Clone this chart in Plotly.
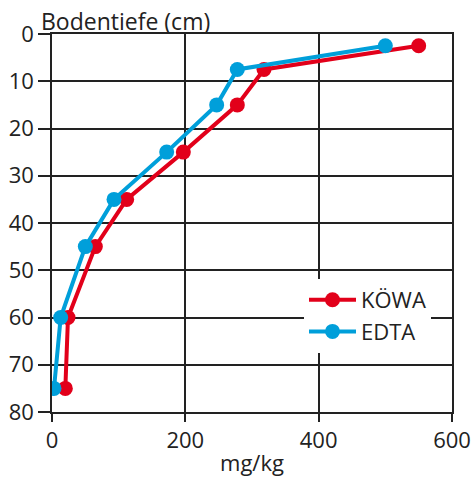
import plotly.graph_objects as go

depth = [2.5, 7.5, 15, 25, 35, 45, 60, 75]
koewa = [550, 318, 278, 197, 112, 65, 24, 20]
edta = [500, 278, 247, 172, 93, 50, 13, 3]

RED = "#e2001a"
BLUE = "#009fda"
FONT = "Open Sans"
INK = "#222"

fig = go.Figure()
fig.add_trace(go.Scatter(x=koewa, y=depth, mode="lines+markers", name="KÖWA",
                         line=dict(color=RED, width=4), marker=dict(color=RED, size=15)))
fig.add_trace(go.Scatter(x=edta, y=depth, mode="lines+markers", name="EDTA",
                         line=dict(color=BLUE, width=4), marker=dict(color=BLUE, size=15)))

fig.update_layout(
    width=475, height=477,
    margin=dict(l=52, r=23, t=34, b=65, autoexpand=False),
    paper_bgcolor="white", plot_bgcolor="white",
    font=dict(family=FONT, size=22, color=INK),
    showlegend=True,
    legend=dict(x=0.63, y=0.254, xanchor="left", yanchor="middle", bgcolor="white",
                itemwidth=47, font=dict(size=22, color=INK), itemsizing="trace",
                tracegroupgap=0),
    xaxis=dict(range=[0, 600], tickvals=[0, 200, 400, 600], showgrid=True, automargin=False,
               gridcolor=INK, gridwidth=1.5, showline=True, linecolor=INK, linewidth=1.5,
               mirror=True, ticks="outside", ticklen=8, tickcolor=INK, tickwidth=1.5,
               zeroline=False, title=dict(text="mg/kg", font=dict(size=22), standoff=2),
               tickfont=dict(size=22)),
    yaxis=dict(range=[80, 0], tickvals=list(range(0, 81, 10)), showgrid=True, automargin=False,
               gridcolor=INK, gridwidth=1.5, showline=True, linecolor=INK, linewidth=1.5,
               mirror=True, ticks="outside", ticklen=12, tickcolor=INK, tickwidth=1.5,
               zeroline=False, tickfont=dict(size=22)),
    annotations=[dict(text="Bodentiefe (cm)", xref="paper", yref="paper", x=-0.033, y=1.0,
                      xanchor="left", yanchor="middle", showarrow=False,
                      font=dict(size=23, color=INK), yshift=13)],
)

fig.write_html(
    "out.html",
    config={"displayModeBar": False},
    post_script="document.body.style.margin='0';document.body.style.overflow='hidden';",
)
